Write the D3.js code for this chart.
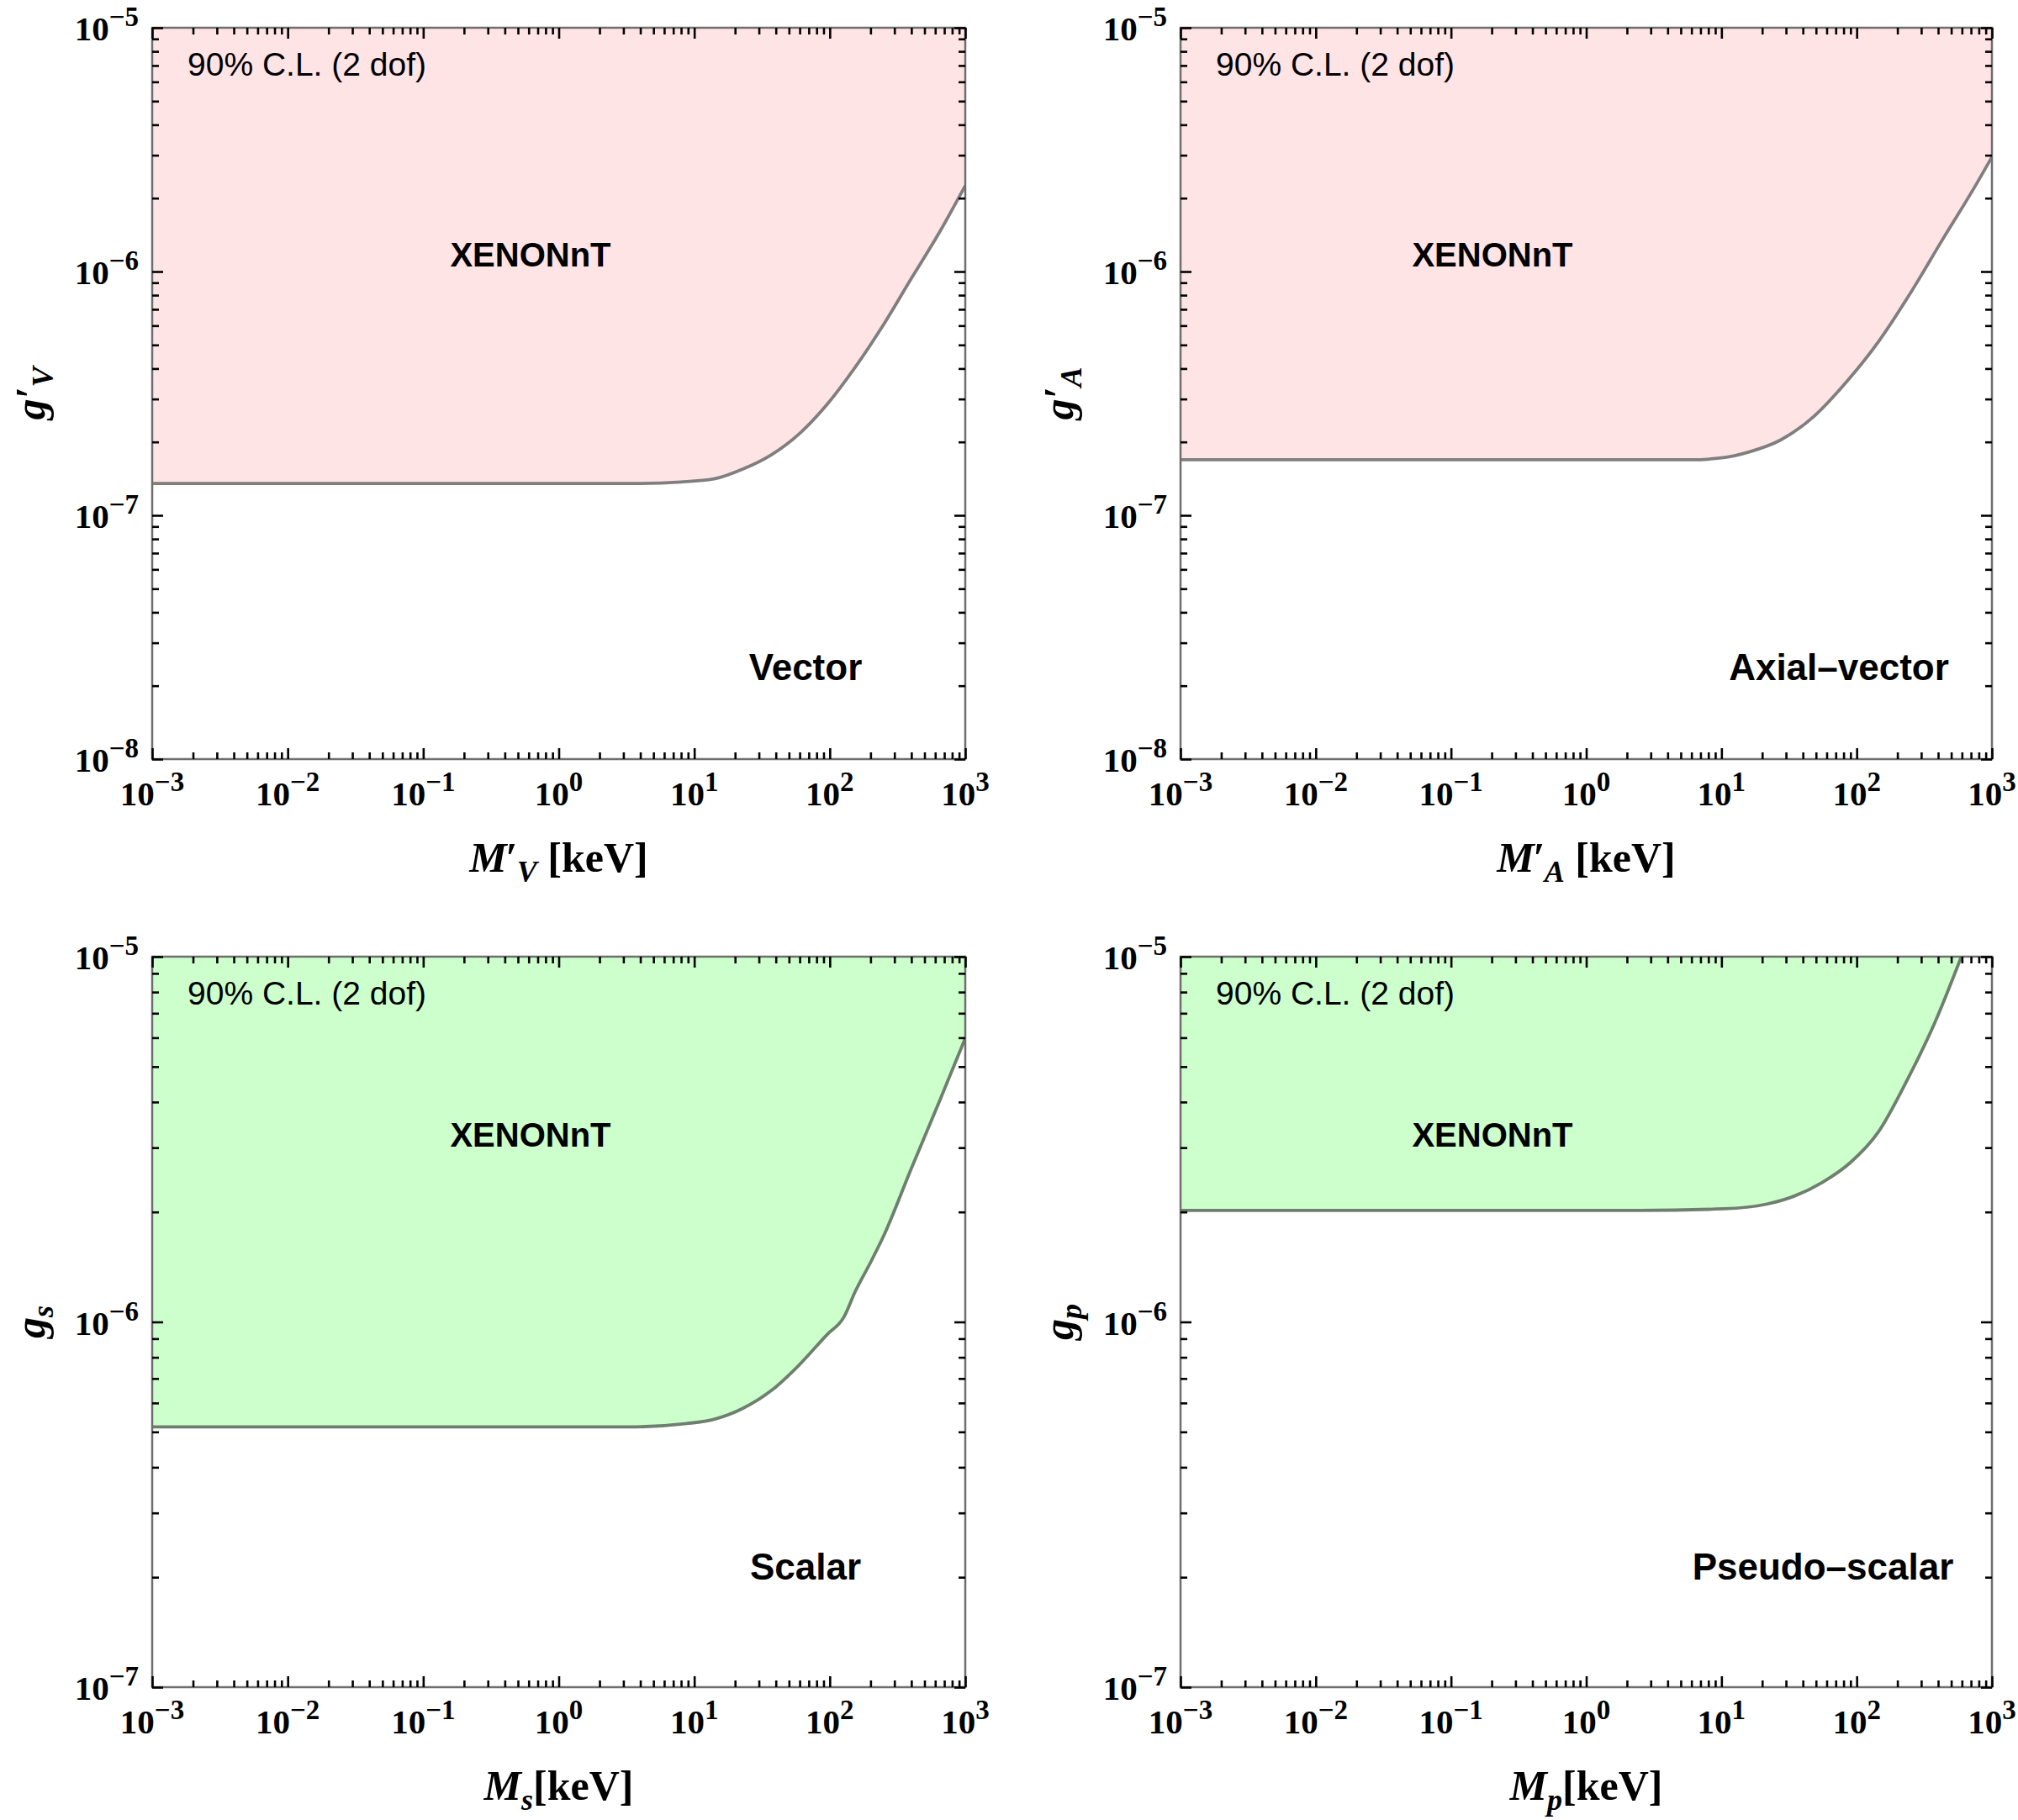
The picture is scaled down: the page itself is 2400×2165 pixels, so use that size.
<!DOCTYPE html>
<html>
<head>
<meta charset="utf-8">
<script src="https://cdn.jsdelivr.net/npm/d3@7/dist/d3.min.js"></script>
<style>
  html, body { margin: 0; padding: 0; background: #fff; }
  svg { display: block; }
</style>
</head>
<body>
<svg id="chart" width="2400" height="2165"></svg>
<script>
// ---------------- DATA ----------------
const xTickExps = [-3, -2, -1, 0, 1, 2, 3];
const yTickExpsTop = [-8, -7, -6, -5];
const yTickExpsBottom = [-7, -6, -5];

const vectorMass = [0.001, 0.01, 0.1, 1, 3.4, 8, 14, 23, 37, 59, 95, 154, 248, 398, 641, 1000];
const vectorG    = [1.35e-7, 1.35e-7, 1.35e-7, 1.35e-7, 1.35e-7, 1.37e-7, 1.41e-7, 1.55e-7, 1.77e-7, 2.15e-7, 2.84e-7, 4.05e-7, 6.03e-7, 9.33e-7, 1.44e-6, 2.25e-6];

const axialMass = [0.001, 0.01, 0.1, 1, 6, 10, 16, 27.5, 48, 83, 145, 251, 427, 741, 1000];
const axialG    = [1.69e-7, 1.69e-7, 1.69e-7, 1.69e-7, 1.69e-7, 1.72e-7, 1.82e-7, 2.04e-7, 2.54e-7, 3.5e-7, 5.16e-7, 8.2e-7, 1.34e-6, 2.21e-6, 2.95e-6];

const scalarMass = [0.001, 0.01, 0.1, 1, 3.4, 8.8, 14.2, 22.9, 36.9, 59.4, 95.5, 127, 154, 195, 248, 398, 641, 1000];
const scalarG    = [5.16e-7, 5.16e-7, 5.16e-7, 5.16e-7, 5.16e-7, 5.27e-7, 5.42e-7, 5.8e-7, 6.48e-7, 7.62e-7, 9.23e-7, 1.03e-6, 1.21e-6, 1.43e-6, 1.71e-6, 2.62e-6, 4.0e-6, 5.98e-6];

const pseudoMass = [0.001, 0.01, 0.1, 1, 2.49, 10.4, 21.4, 34.5, 55.6, 89.7, 144.5, 233, 377, 594];
const pseudoG    = [2.02e-6, 2.02e-6, 2.02e-6, 2.02e-6, 2.02e-6, 2.04e-6, 2.10e-6, 2.21e-6, 2.41e-6, 2.73e-6, 3.31e-6, 4.55e-6, 6.58e-6, 1.0e-5];

const clText = "90% C.L. (2 dof)";
const expText = "XENONnT";
const modelNames = ["Vector", "Axial\u2013vector", "Scalar", "Pseudo\u2013scalar"];

// ---------------- LAYOUT ----------------
const panels = [
  { left: 181, top: 33, w: 967, h: 870, mass: vectorMass, g: vectorG, yExps: yTickExpsTop,
    fill: "#ffe4e6", line: "#7f7f7f", name: modelNames[0],
    xl: { main: "M", prime: true, sub: "V", rest: " [keV]" }, yl: { main: "g", prime: true, sub: "V" },
    xen: [450, 284], model: [777, 776] },
  { left: 1404, top: 33, w: 965, h: 870, mass: axialMass, g: axialG, yExps: yTickExpsTop,
    fill: "#ffe4e6", line: "#7f7f7f", name: modelNames[1],
    xl: { main: "M", prime: true, sub: "A", rest: " [keV]" }, yl: { main: "g", prime: true, sub: "A" },
    xen: [371, 284], model: [783, 776] },
  { left: 181, top: 1138, w: 967, h: 869, mass: scalarMass, g: scalarG, yExps: yTickExpsBottom,
    fill: "#ccffcc", line: "#6f7f6f", name: modelNames[2],
    xl: { main: "M", prime: false, sub: "s", rest: "[keV]" }, yl: { main: "g", prime: false, sub: "s" },
    xen: [450, 226], model: [777, 741] },
  { left: 1404, top: 1138, w: 965, h: 869, mass: pseudoMass, g: pseudoG, yExps: yTickExpsBottom,
    fill: "#ccffcc", line: "#6f7f6f", name: modelNames[3],
    xl: { main: "M", prime: false, sub: "p", rest: "[keV]" }, yl: { main: "g", prime: false, sub: "p" },
    xen: [371, 226], model: [764, 741] }
];

const svg = d3.select("#chart");
const serif = "'Liberation Serif', 'Times New Roman', serif";
const sans = "'Liberation Sans', Arial, Helvetica, sans-serif";

function minorTicks(lo, hi) {
  const out = [];
  for (let e = lo; e < hi; e++) for (let m = 2; m <= 9; m++) out.push(m * Math.pow(10, e));
  return out;
}

panels.forEach((p, i) => {
  const g = svg.append("g").attr("transform", `translate(${p.left},${p.top})`);
  const yLo = p.yExps[0], yHi = p.yExps[p.yExps.length - 1];
  const x = d3.scaleLog().domain([1e-3, 1e3]).range([0, p.w]);
  const y = d3.scaleLog().domain([Math.pow(10, yLo), Math.pow(10, yHi)]).range([p.h, 0]);

  const clipId = "clip" + i;
  g.append("clipPath").attr("id", clipId).append("rect").attr("width", p.w).attr("height", p.h);

  const pts = p.mass.map((m, k) => [m, p.g[k]]);
  const area = d3.area().x(d => x(d[0])).y0(0).y1(d => y(d[1])).curve(d3.curveMonotoneX);
  const line = d3.line().x(d => x(d[0])).y(d => y(d[1])).curve(d3.curveMonotoneX);

  const plot = g.append("g").attr("clip-path", `url(#${clipId})`);
  plot.append("path").datum(pts).attr("d", area).attr("fill", p.fill).attr("stroke", "none");
  plot.append("path").datum(pts).attr("d", line).attr("fill", "none")
    .attr("stroke", p.line).attr("stroke-width", 3.8);

  // frame
  g.append("rect").attr("width", p.w).attr("height", p.h).attr("fill", "none")
    .attr("stroke", "#6e6e6e").attr("stroke-width", 2.5);

  // ticks (inward, mirrored)
  const xMaj = xTickExps.map(e => Math.pow(10, e));
  const xMin = minorTicks(-3, 3);
  const yMaj = p.yExps.map(e => Math.pow(10, e));
  const yMin = minorTicks(yLo, yHi);
  const styleTicks = sel => {
    sel.select(".domain").remove();
    sel.selectAll(".tick line").attr("stroke", "#000").attr("stroke-width", 2.6);
    sel.selectAll(".tick text").remove();
  };
  const axes = [
    [d3.axisBottom(x), `translate(0,${p.h})`, xMaj, xMin],
    [d3.axisTop(x), `translate(0,0)`, xMaj, xMin],
    [d3.axisLeft(y), `translate(0,0)`, yMaj, yMin],
    [d3.axisRight(y), `translate(${p.w},0)`, yMaj, yMin]
  ];
  axes.forEach(([ax, tr, maj, mn]) => {
    g.append("g").attr("transform", tr)
      .call(ax.tickValues(maj).tickSize(-13).tickFormat(() => "")).call(styleTicks);
    g.append("g").attr("transform", tr)
      .call(ax.tickValues(mn).tickSize(-8).tickFormat(() => "")).call(styleTicks);
  });

  // x tick labels
  xTickExps.forEach(e => {
    const t = g.append("text").attr("x", x(Math.pow(10, e))).attr("y", p.h + 55)
      .attr("text-anchor", "middle").attr("font-family", serif).attr("font-weight", "bold")
      .attr("font-size", 41).attr("fill", "#000");
    t.append("tspan").text("10");
    t.append("tspan").attr("dy", -17).attr("font-size", 33).text(e < 0 ? "\u2212" + (-e) : String(e));
  });
  // y tick labels
  p.yExps.forEach(e => {
    const t = g.append("text").attr("x", -16).attr("y", y(Math.pow(10, e)) + 15)
      .attr("text-anchor", "end").attr("font-family", serif).attr("font-weight", "bold")
      .attr("font-size", 41).attr("fill", "#000");
    t.append("tspan").text("10");
    t.append("tspan").attr("dy", -17).attr("font-size", 33).text("\u2212" + (-e));
  });

  // x axis title
  const xt = g.append("text").attr("x", p.w / 2).attr("y", p.h + 134)
    .attr("text-anchor", "middle").attr("font-family", serif).attr("font-weight", "bold")
    .attr("font-size", 50).attr("fill", "#000");
  xt.append("tspan").attr("font-style", "italic").text(p.xl.main);
  if (p.xl.prime) {
    xt.append("tspan").attr("font-style", "italic").attr("dx", -2).text("\u2032");
    xt.append("tspan").attr("font-style", "italic").attr("font-size", 36).attr("dx", 0).attr("dy", 12).text(p.xl.sub);
  } else {
    xt.append("tspan").attr("font-style", "italic").attr("font-size", 36).attr("dy", 12).text(p.xl.sub);
  }
  xt.append("tspan").attr("dy", -12).text(p.xl.rest);

  // y axis title
  const cy = p.h / 2;
  const yt = g.append("text").attr("transform", `translate(-128,${cy}) rotate(-90)`)
    .attr("text-anchor", "middle").attr("font-family", serif).attr("font-weight", "bold")
    .attr("font-size", 50).attr("fill", "#000");
  yt.append("tspan").attr("font-style", "italic").text(p.yl.main);
  if (p.yl.prime) {
    yt.append("tspan").attr("font-style", "italic").attr("dx", 0).text("\u2032");
    yt.append("tspan").attr("font-style", "italic").attr("font-size", 36).attr("dx", 0).attr("dy", 10).text(p.yl.sub);
  } else {
    yt.append("tspan").attr("font-style", "italic").attr("font-size", 36).attr("dy", 10).text(p.yl.sub);
  }

  // annotations
  g.append("text").attr("x", 42).attr("y", 57).attr("font-family", sans)
    .attr("font-size", 39).attr("fill", "#000").text(clText);
  g.append("text").attr("x", p.xen[0]).attr("y", p.xen[1]).attr("text-anchor", "middle")
    .attr("font-family", sans).attr("font-weight", "bold").attr("font-size", 40)
    .attr("fill", "#000").text(expText);
  g.append("text").attr("x", p.model[0]).attr("y", p.model[1]).attr("text-anchor", "middle")
    .attr("font-family", sans).attr("font-weight", "bold").attr("font-size", 44)
    .attr("fill", "#000").text(p.name);
});
</script>
</body>
</html>
